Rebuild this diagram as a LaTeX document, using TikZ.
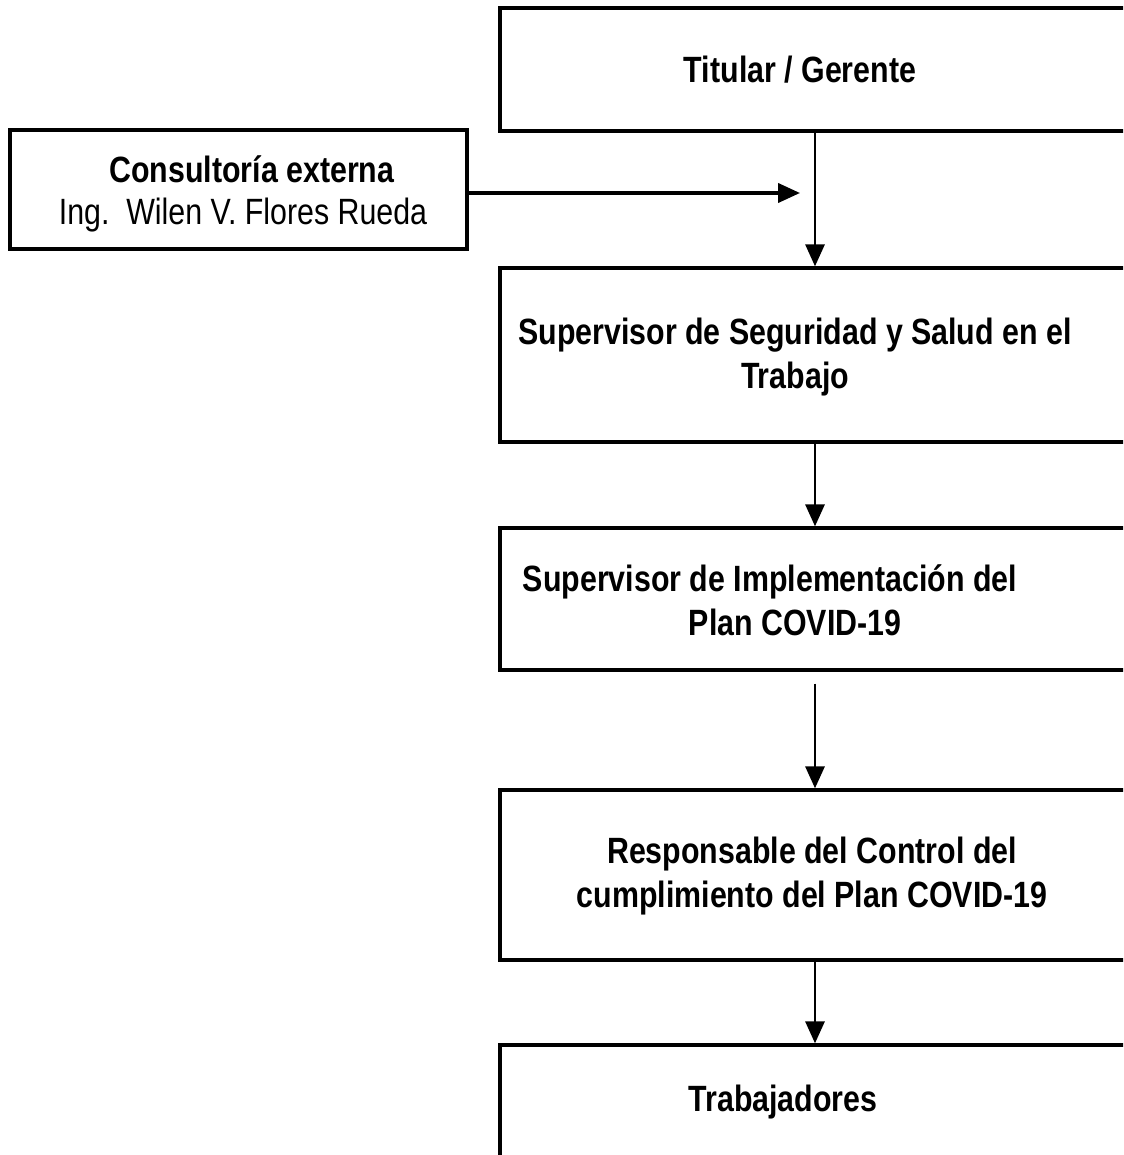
\documentclass[tikz,border=0pt]{standalone}
\usepackage{fontspec}
\setmainfont{Liberation Sans}[FakeStretch=0.83]
\usetikzlibrary{arrows.meta,positioning}

\begin{document}
\begin{tikzpicture}[
  x=0.025cm, y=-0.025cm,
  box/.style={draw, line width=2.4pt, minimum width=15.75cm, inner sep=0pt},
  side/.style={draw, line width=2.4pt, minimum width=11.425cm, minimum height=2.975cm, inner sep=0pt},
  txt/.style={align=center, font=\fontsize{26}{31}\selectfont\bfseries},
  sidetxt/.style={align=center, font=\fontsize{26}{30}\selectfont},
  arrow/.style={-{Triangle[length=5.5mm,width=4.8mm]}, line width=1.8pt},
]
  \clip (0,0) rectangle (1123,1155);
  \fill[white] (0,0) rectangle (1123,1155);

  % right column
  \node[box, minimum height=3.075cm] (titular) at (815,69.5) {};
  \node[box, minimum height=4.35cm] (seguridad) at (815,355) {};
  \node[box, minimum height=3.55cm] (implem) at (815,599) {};
  \node[box, minimum height=4.25cm] (control) at (815,875) {};
  \node[box, minimum height=3.875cm] (trab) at (815,1122.5) {};

  \node[txt] (titularTxt) at (800,70) {Titular / Gerente};
  \node[txt] (seguridadTxt) at (795,357) {Supervisor de Seguridad y Salud en el\\Trabajo};
  \node[txt] (implemTxt) at (770,600) {Supervisor de Implementación del\\\hspace*{1.25cm}Plan COVID-19};
  \node[txt] (controlTxt) at (812,876) {Responsable del Control del\\cumplimiento del Plan COVID-19};
  \node[txt] (trabTxt) at (783,1102) {Trabajadores};

  % consultoria
  \node[side] (consult) at (238.5,189.5) {};
  \node[sidetxt] (consultTxt) at (243,194) {\hspace*{0.45cm}\textbf{Consultoría externa}\\Ing.\ \ Wilen V. Flores Rueda};
  \coordinate (consultEnd) at (800,193);

  \draw[arrow, line width=2.4pt] (consult.east |- consultEnd) -- (consultEnd);
  \draw[arrow] (titular) -- (seguridad);
  \draw[arrow] (seguridad) -- (implem);
  \draw[arrow, shorten <=3mm] (implem) -- (control);
  \draw[arrow] (control) -- (trab);
\end{tikzpicture}
\end{document}
